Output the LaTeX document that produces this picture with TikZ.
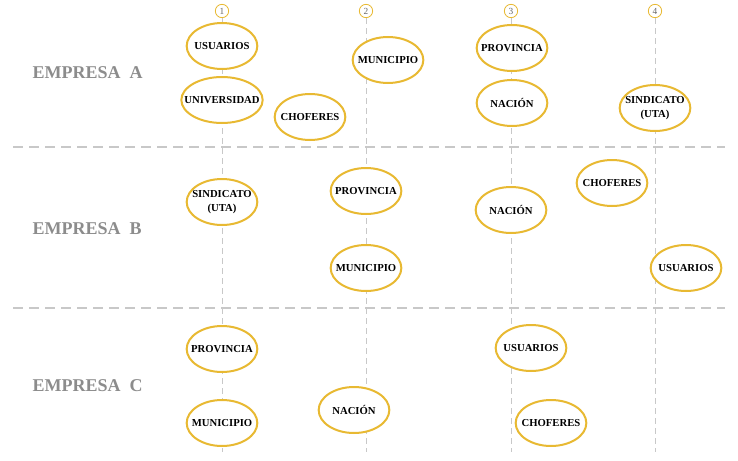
\documentclass[tikz,border=0pt]{standalone}
\usepackage{fontspec}
\setmainfont{Liberation Serif}
\usetikzlibrary{shapes.geometric}
\definecolor{gold}{RGB}{232,185,50}
\definecolor{gridgray}{RGB}{200,200,200}
\definecolor{titlegray}{RGB}{140,140,140}
\tikzset{
  px/.style={x=0.75pt,y=-0.75pt},
  ell/.style={ellipse,draw=gold,line width=1.5pt,fill=white,inner sep=0pt,
    minimum width=53pt,minimum height=34.5pt},
  wide/.style={minimum width=61pt},
  lbl/.style={font=\fontsize{8}{10}\selectfont\bfseries,align=center,inner sep=0pt},
  num/.style={circle,draw=gold,line width=0.6pt,inner sep=0pt,minimum size=10pt,
    font=\fontsize{7}{7}\selectfont,text=black!60},
  vline/.style={draw=gridgray,line width=0.75pt,dash pattern=on 4.5pt off 3pt},
  hline/.style={draw=gridgray,line width=1.5pt,dash pattern=on 7.5pt off 4.5pt},
  title/.style={font=\fontsize{13.5}{16}\selectfont\bfseries,text=titlegray,anchor=west}
}
\begin{document}
\begin{tikzpicture}[px]
\useasboundingbox (0,0) rectangle (738,460);
% numbers and vertical lines
\node[num] (n1) at (222,11) {1};
\node[num] (n2) at (366,11) {2};
\node[num] (n3) at (511,11) {3};
\node[num] (n4) at (655,11) {4};
\coordinate (b1) at (222,452);
\coordinate (b2) at (366,452);
\coordinate (b3) at (511,452);
\coordinate (b4) at (655,452);
\foreach \i in {1,...,4} \draw[vline] (n\i.south) -- (b\i);
% horizontal separators
\coordinate (h1l) at (13,147); \coordinate (h1r) at (725,147);
\coordinate (h2l) at (13,308); \coordinate (h2r) at (725,308);
\draw[hline] (h1l) -- (h1r);
\draw[hline] (h2l) -- (h2r);
% titles
\node[title] (ta) at (28,73) {EMPRESA\ \ A};
\node[title] (tb) at (28,229) {EMPRESA\ \ B};
\node[title] (tc) at (28,386) {EMPRESA\ \ C};
% Empresa A
\node[ell,label={[lbl]center:USUARIOS}] (a1) at (222,46) {};
\node[ell,wide,label={[lbl]center:UNIVERSIDAD}] (a2) at (222,100) {};
\node[ell,label={[lbl]center:CHOFERES}] (a3) at (310,117) {};
\node[ell,label={[lbl]center:MUNICIPIO}] (a4) at (388,60) {};
\node[ell,label={[lbl]center:PROVINCIA}] (a5) at (512,48) {};
\node[ell,label={[lbl]center:NACIÓN}] (a6) at (512,103) {};
\node[ell,label={[lbl]center:SINDICATO\\(UTA)}] (a7) at (655,108) {};
% Empresa B
\node[ell,label={[lbl]center:SINDICATO\\(UTA)}] (b1n) at (222,202) {};
\node[ell,label={[lbl]center:PROVINCIA}] (b2n) at (366,191) {};
\node[ell,label={[lbl]center:MUNICIPIO}] (b3n) at (366,268) {};
\node[ell,label={[lbl]center:NACIÓN}] (b4n) at (511,210) {};
\node[ell,label={[lbl]center:CHOFERES}] (b5n) at (612,183) {};
\node[ell,label={[lbl]center:USUARIOS}] (b6n) at (686,268) {};
% Empresa C
\node[ell,label={[lbl]center:PROVINCIA}] (c1) at (222,349) {};
\node[ell,label={[lbl]center:MUNICIPIO}] (c2) at (222,423) {};
\node[ell,label={[lbl]center:NACIÓN}] (c3) at (354,410) {};
\node[ell,label={[lbl]center:USUARIOS}] (c4) at (531,348) {};
\node[ell,label={[lbl]center:CHOFERES}] (c5) at (551,423) {};
\end{tikzpicture}
\end{document}
